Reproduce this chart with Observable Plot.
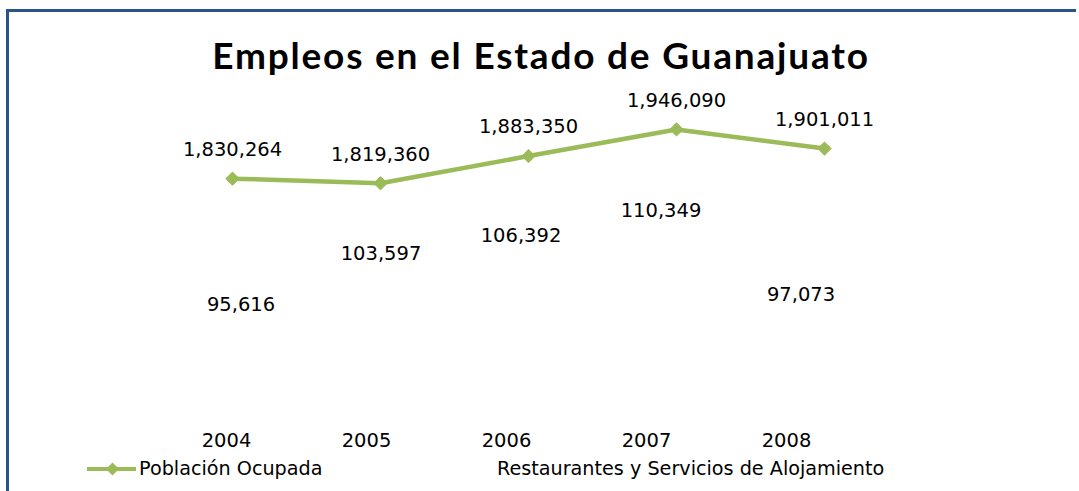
<!DOCTYPE html>
<html>
<head>
<meta charset="utf-8">
<script src="https://cdn.jsdelivr.net/npm/d3@7"></script>
<script src="https://cdn.jsdelivr.net/npm/@observablehq/plot@0.6"></script>
<style>
html, body { margin: 0; padding: 0; background: #fff; overflow: hidden; }
#wrap { position: relative; width: 1079px; height: 491px; overflow: hidden; background: #fff; font-family: "DejaVu Sans", sans-serif; color: #000; }
#frame { position: absolute; left: 6px; top: 9px; width: 1070px; height: 482px; border-left: 3px solid #2b5289; border-top: 3px solid #2b5289; border-right: none; border-bottom: none; box-sizing: border-box; }
#title { position: absolute; left: 0; width: 1082px; top: 35.5px; text-align: center; font: bold 37px/37px Lato, sans-serif; letter-spacing: 1.8px; white-space: nowrap; }
.plot { position: absolute; left: 0; top: 0; }
.leg { position: absolute; top: 459px; font: 19.2px/19px "DejaVu Sans", sans-serif; white-space: nowrap; }
#legsw { position: absolute; left: 85px; top: 459px; }
</style>
</head>
<body>
<div id="wrap">
  <div id="frame"></div>
  <div id="title"></div>
  <div id="chartA"></div>
  <div id="chartB"></div>
  <svg id="legsw" width="54" height="20"></svg>
  <div class="leg" id="leg1" style="left:139px"></div>
  <div class="leg" id="leg2" style="left:497px"></div>
</div>
<script>
const titleText = "Empleos en el Estado de Guanajuato";
const years = ["2004", "2005", "2006", "2007", "2008"];
const poblacionOcupada = [1830264, 1819360, 1883350, 1946090, 1901011];
const restaurantes = [95616, 103597, 106392, 110349, 97073];
const seriesNames = ["Población Ocupada", "Restaurantes y Servicios de Alojamiento"];

const green = "#9bbb59";
const fmt = d3.format(",");
const font = "DejaVu Sans";
const labelSize = 19.5;

document.getElementById("title").textContent = titleText;
document.getElementById("leg1").textContent = seriesNames[0];
document.getElementById("leg2").textContent = seriesNames[1];

const dataA = years.map((y, i) => ({year: y, value: poblacionOcupada[i]}));
const dataB = years.map((y, i) => ({year: y, value: restaurantes[i]}));

const plotA = Plot.plot({
  width: 1079, height: 491,
  marginLeft: 231, marginRight: 255, marginTop: 106, marginBottom: 87.5,
  style: {background: "transparent", fontFamily: font, color: "#000"},
  x: {type: "point", domain: years, padding: 0, axis: null},
  y: {domain: [1300000, 2000000], axis: null},
  marks: [
    Plot.line(dataA, {x: "year", y: "value", stroke: green, strokeWidth: 4.5}),
    Plot.dot(dataA, {x: "year", y: "value", symbol: "diamond2", r: 6, fill: green, stroke: green, strokeWidth: 1}),
    Plot.text(dataA, {x: "year", y: "value", text: d => fmt(d.value), dy: -29, fontSize: labelSize, fill: "#000"})
  ]
});
plotA.classList.add("plot");
document.getElementById("chartA").appendChild(plotA);

const plotB = Plot.plot({
  width: 1079, height: 491,
  marginLeft: 225.5, marginRight: 293.5, marginTop: 98, marginBottom: 73,
  style: {background: "transparent", fontFamily: font, color: "#000"},
  x: {type: "point", domain: years, padding: 0, label: null},
  y: {domain: [80000, 130000], axis: null},
  marks: [
    Plot.axisX({tickSize: 0, tickPadding: 14.5, fontSize: labelSize, label: null}),
    Plot.text(dataB, {x: "year", y: "value", text: d => fmt(d.value), dx: 14.5, dy: -14, fontSize: labelSize, fill: "#000"})
  ]
});
plotB.classList.add("plot");
document.getElementById("chartB").appendChild(plotB);

// legend swatch
const sw = d3.select("#legsw");
sw.append("line").attr("x1", 2).attr("x2", 51).attr("y1", 10).attr("y2", 10).attr("stroke", green).attr("stroke-width", 4);
sw.append("path").attr("transform", "translate(27.5,10)").attr("d", d3.symbol(d3.symbolDiamond2, 110)()).attr("fill", green);
</script>
</body>
</html>
